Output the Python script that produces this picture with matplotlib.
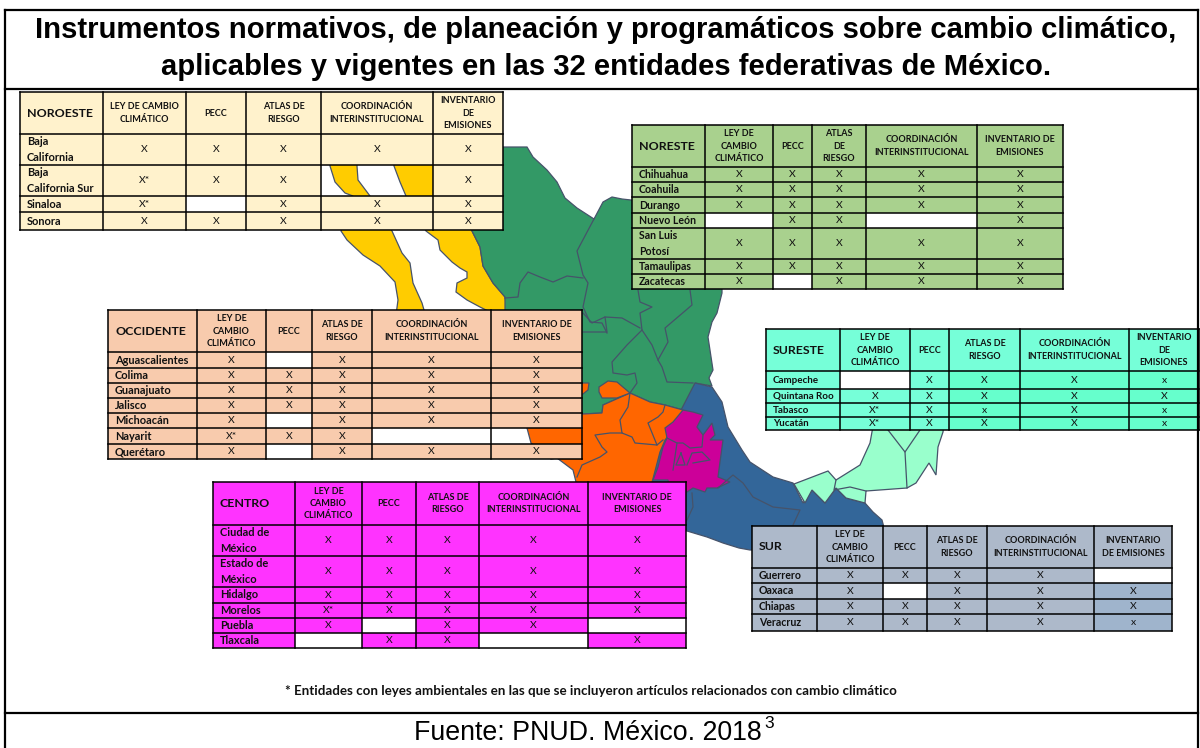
#!/usr/bin/env python3
"""
Instrumentos normativos sobre cambio climatico: mapa de regiones con una tabla por region.
"""

import matplotlib
matplotlib.use('Agg')
import matplotlib.pyplot as plt
from matplotlib.patches import Polygon, Rectangle

TITLE_LINES = ['Instrumentos normativos, de planeación y programáticos sobre cambio climático,',
               'aplicables y vigentes en las 32 entidades federativas de México.']
FOOTNOTE = '* Entidades con leyes ambientales en las que se incluyeron artículos relacionados con cambio climático'
SOURCE = 'Fuente: PNUD. México. 2018'

# Region tables. None = cell left open over the map, '' = white cell
noroeste_name = 'NOROESTE'
noroeste_heads = ['LEY DE CAMBIO\nCLIMÁTICO', 'PECC', 'ATLAS DE\nRIESGO',
                  'COORDINACIÓN\nINTERINSTITUCIONAL', 'INVENTARIO\nDE\nEMISIONES']
noroeste_states = ['Baja\nCalifornia', 'Baja\nCalifornia Sur', 'Sinaloa', 'Sonora']
noroeste_marks = [['X', 'X', 'X', 'X', 'X'],
                  ['X*', 'X', 'X', None, 'X'],
                  ['X*', '', 'X', 'X', 'X'],
                  ['X', 'X', 'X', 'X', 'X']]

noreste_name = 'NORESTE'
noreste_heads = ['LEY DE\nCAMBIO\nCLIMÁTICO', 'PECC', 'ATLAS\nDE\nRIESGO',
                 'COORDINACIÓN\nINTERINSTITUCIONAL', 'INVENTARIO DE\nEMISIONES']
noreste_states = ['Chihuahua', 'Coahuila', 'Durango', 'Nuevo León', 'San Luis\nPotosí',
                  'Tamaulipas', 'Zacatecas']
noreste_marks = [['X', 'X', 'X', 'X', 'X'],
                 ['X', 'X', 'X', 'X', 'X'],
                 ['X', 'X', 'X', 'X', 'X'],
                 ['', 'X', 'X', '', 'X'],
                 ['X', 'X', 'X', 'X', 'X'],
                 ['X', 'X', 'X', 'X', 'X'],
                 ['X', '', 'X', 'X', 'X']]

sureste_name = 'SURESTE'
sureste_heads = ['LEY DE\nCAMBIO\nCLIMÁTICO', 'PECC', 'ATLAS DE\nRIESGO',
                 'COORDINACIÓN\nINTERINSTITUCIONAL', 'INVENTARIO\nDE\nEMISIONES']
sureste_states = ['Campeche', 'Quintana Roo', 'Tabasco', 'Yucatán']
sureste_marks = [['', 'X', 'X', 'X', 'x'],
                 ['X', 'X', 'X', 'X', 'X'],
                 ['X*', 'X', 'x', 'X', 'x'],
                 ['X*', 'X', 'X', 'X', 'x']]

occidente_name = 'OCCIDENTE'
occidente_heads = ['LEY DE\nCAMBIO\nCLIMÁTICO', 'PECC', 'ATLAS DE\nRIESGO',
                   'COORDINACIÓN\nINTERINSTITUCIONAL', 'INVENTARIO DE\nEMISIONES']
occidente_states = ['Aguascalientes', 'Colima', 'Guanajuato', 'Jalisco', 'Michoacán',
                    'Nayarit', 'Querétaro']
occidente_marks = [['X', '', 'X', 'X', 'X'],
                   ['X', 'X', 'X', 'X', 'X'],
                   ['X', 'X', 'X', 'X', 'X'],
                   ['X', 'X', 'X', 'X', 'X'],
                   ['X', '', 'X', 'X', 'X'],
                   ['X*', 'X', 'X', '', None],
                   ['X', '', 'X', 'X', 'X']]

centro_name = 'CENTRO'
centro_heads = occidente_heads
centro_states = ['Ciudad de\nMéxico', 'Estado de\nMéxico', 'Hidalgo', 'Morelos', 'Puebla', 'Tlaxcala']
centro_marks = [['X', 'X', 'X', 'X', 'X'],
                ['X', 'X', 'X', 'X', 'X'],
                ['X', 'X', 'X', 'X', 'X'],
                ['X*', 'X', 'X', 'X', 'X'],
                ['X', '', 'X', 'X', ''],
                ['', 'X', 'X', '', 'X']]

sur_name = 'SUR'
sur_heads = ['LEY DE\nCAMBIO\nCLIMÁTICO', 'PECC', 'ATLAS DE\nRIESGO',
             'COORDINACIÓN\nINTERINSTITUCIONAL', 'INVENTARIO\nDE EMISIONES']
sur_states = ['Guerrero', 'Oaxaca', 'Chiapas', 'Veracruz']
sur_marks = [['X', 'X', 'X', 'X', ''],
             ['X', '', 'X', 'X', 'X'],
             ['X', 'X', 'X', 'X', 'X'],
             ['X', 'X', 'X', 'X', 'x']]

# Map outlines (x, y in image pixels)
baja_shape = [(330, 130), (330, 166), (335, 182), (345, 193), (353, 196), (341, 231), (347, 240),
              (363, 255), (380, 266), (395, 282), (398, 300), (394, 330), (424, 330), (424, 310),
              (422, 303), (413, 283), (410, 263), (402, 253), (392, 231), (370, 196), (358, 180),
              (357, 166), (357, 130)]
sonora_shape = [(390, 130), (394, 166), (400, 182), (406, 196), (426, 231), (438, 240), (440, 250),
                (452, 262), (460, 268), (467, 272), (467, 278), (457, 283), (456, 292), (467, 300),
                (480, 307), (490, 312), (490, 330), (510, 330), (505, 297), (493, 283), (483, 266),
                (480, 247), (472, 231), (470, 130)]
noreste_shape = [(480, 147), (504, 147), (527, 147), (533, 157), (547, 170), (557, 182), (565, 198),
                 (577, 208), (594, 219), (603, 202), (612, 197), (622, 199), (640, 201), (660, 240),
                 (722, 280), (722, 293), (717, 313), (712, 322), (708, 337), (713, 370), (709, 378),
                 (712, 386), (695, 383), (697, 395), (695, 408), (683, 410), (665, 405), (650, 402),
                 (630, 393), (603, 405), (602, 413), (583, 414), (540, 414), (505, 330), (505, 297),
                 (493, 283), (483, 266), (480, 247), (472, 231)]
occidente_shape = [(540, 410), (583, 414), (602, 413), (603, 405), (630, 393), (650, 402), (665, 405),
                   (683, 410), (673, 430), (665, 440), (660, 452), (650, 490), (578, 490), (573, 470),
                   (557, 458), (551, 459), (531, 443), (527, 428)]
aguascalientes_shape = [(599, 387), (608, 381), (617, 382), (630, 393), (617, 398), (602, 398), (599, 392)]
orange_bit_shape = [(578, 383), (589, 383), (588, 390), (583, 394), (578, 395)]
sur_shape = [(695, 383), (712, 387), (722, 402), (728, 427), (742, 450), (750, 462), (773, 477),
             (793, 483), (803, 503), (812, 490), (825, 503), (836, 488), (846, 498), (865, 503),
             (873, 512), (882, 520), (890, 550), (750, 550), (739, 548), (723, 543), (707, 537),
             (687, 531), (620, 520), (620, 482), (630, 477), (645, 480), (648, 472), (660, 450),
             (680, 412)]
centro_shape = [(653, 480), (658, 467), (663, 447), (667, 438), (665, 428), (673, 422), (683, 410),
                (693, 412), (703, 415), (697, 427), (703, 435), (712, 423), (715, 435), (710, 440),
                (723, 440), (720, 462), (718, 477), (730, 482), (717, 488), (707, 488), (705, 492),
                (693, 488), (687, 492), (670, 492), (668, 480)]
sureste_shape = [(794, 484), (828, 471), (836, 480), (860, 465), (870, 443), (875, 415), (945, 415),
                 (943, 432), (938, 447), (936, 475), (929, 463), (916, 483), (907, 488), (866, 491),
                 (865, 503), (846, 498), (836, 488), (825, 503), (812, 490), (805, 503)]

state_borders = [
    [(594, 219), (577, 251), (583, 275), (588, 283), (583, 307), (590, 322), (602, 323), (607, 333)],
    [(505, 298), (518, 297), (520, 283), (528, 272), (540, 277), (553, 282), (567, 276), (583, 278)],
    [(638, 290), (640, 302), (652, 307), (640, 313), (642, 330), (627, 345), (612, 362), (613, 373),
     (627, 375), (635, 373), (637, 383), (630, 393)],
    [(690, 290), (692, 305), (665, 328), (668, 342), (658, 360), (662, 367), (667, 382), (693, 383)],
    [(642, 330), (652, 345), (658, 360)],
    [(583, 313), (592, 323), (605, 317), (607, 332), (583, 332)],
    [(605, 317), (622, 318), (640, 328)],
    [(630, 393), (628, 407), (620, 420), (622, 433), (632, 437), (635, 443), (657, 445), (648, 423),
     (658, 417), (663, 412), (665, 405)],
    [(622, 433), (610, 433), (595, 435), (602, 447), (607, 452), (600, 457), (582, 465), (577, 477)],
    [(657, 445), (663, 440)],
    [(667, 438), (677, 443), (683, 443), (690, 448), (702, 447), (703, 435)],
    [(677, 443), (673, 470)],
    [(681, 453), (676, 465), (685, 465), (681, 453)],
    [(687, 465), (692, 453), (702, 452), (710, 460), (693, 463)],
    [(692, 493), (693, 507), (687, 520)],
    [(718, 488), (733, 475), (743, 483), (753, 497), (773, 507), (800, 510), (793, 525)],
    [(836, 480), (834, 490), (850, 487), (866, 491)],
    [(888, 430), (905, 452), (920, 430)],
    [(905, 452), (907, 488)],
]

# Layout of each table: column and row edges in image pixels
noroeste_cols = [20, 103, 186, 246, 321, 433, 503]
noroeste_rows = [92, 134, 165, 196, 212, 230]
noreste_cols = [632, 705, 773, 812, 866, 977, 1063]
noreste_rows = [125, 167, 182, 197, 213, 228, 259, 274, 289]
sureste_cols = [766, 840, 910, 949, 1020, 1129, 1199]
sureste_rows = [329, 371, 389, 403, 417, 430]
occidente_cols = [108, 197, 266, 312, 372, 491, 582]
occidente_rows = [310, 352, 368, 383, 398, 413, 428, 444, 459]
centro_cols = [213, 295, 362, 416, 479, 588, 686]
centro_rows = [482, 525, 556, 587, 603, 618, 633, 648]
sur_cols = [752, 817, 883, 927, 987, 1094, 1172]
sur_rows = [526, 568, 583, 599, 614, 631]

EDGE = '#46536A'
TABLE_FONT = 'Lato'


def draw_table(ax, name, heads, states, marks, cols, rows, head_color, body_color, last_color=None,
               data_color=None, state_size=7.9):
    """One region table: header row, state names, X marks."""
    for r in range(len(rows) - 1):
        for c in range(len(cols) - 1):
            if r == 0:
                fill = head_color
                value = ''
            elif c == 0:
                fill = body_color
                value = ''
            else:
                value = marks[r - 1][c - 1]
                fill = body_color
                if data_color and c >= 3:
                    fill = data_color
                if last_color and c == len(cols) - 2 and value != '':
                    fill = last_color
                if value == '':
                    fill = 'white'
            if value is None:
                continue
            ax.add_patch(Rectangle((cols[c], rows[r]), cols[c + 1] - cols[c], rows[r + 1] - rows[r],
                                   facecolor=fill, edgecolor='none', zorder=3))
            if value:
                ax.text((cols[c] + cols[c + 1]) / 2, (rows[r] + rows[r + 1]) / 2, value, fontsize=7.5,
                        family=TABLE_FONT, ha='center', va='center', zorder=5, color='#111111')

    for x in cols:
        ax.plot([x, x], [rows[0], rows[-1]], color='black', lw=1.1, zorder=4, solid_capstyle='projecting')
    for y in rows:
        ax.plot([cols[0], cols[-1]], [y, y], color='black', lw=1.1, zorder=4, solid_capstyle='projecting')

    ax.text(cols[0] + 7, (rows[0] + rows[1]) / 2, name, fontsize=8.9, fontweight='bold', family=TABLE_FONT,
            ha='left', va='center', zorder=5, color='#111111')
    for c, head in enumerate(heads):
        ax.text((cols[c + 1] + cols[c + 2]) / 2, (rows[0] + rows[1]) / 2, head, fontsize=6.5, fontweight='bold',
                family=TABLE_FONT, ha='center', va='center', linespacing=1.5, zorder=5, color='#111111')
    for r, state in enumerate(states):
        ax.text(cols[0] + 7, (rows[r + 1] + rows[r + 2]) / 2, state, fontsize=state_size, fontweight='bold',
                family=TABLE_FONT, ha='left', va='center', linespacing=1.55, zorder=5, color='#111111')


def main():
    fig = plt.figure(figsize=(12, 7.48), dpi=100)
    ax = fig.add_axes([0, 0, 1, 1])
    ax.set_xlim(0, 1200)
    ax.set_ylim(748, 0)
    ax.axis('off')

    # Map
    map_shapes = [(baja_shape, '#FFCC00'), (sonora_shape, '#FFCC00'), (noreste_shape, '#339966'),
                  (sur_shape, '#336699'), (occidente_shape, '#FF6600'),
                  (aguascalientes_shape, '#FF6600'), (orange_bit_shape, '#FF6600'),
                  (centro_shape, '#CC0099'), (sureste_shape, '#99FFCC')]
    for shape, color in map_shapes:
        ax.add_patch(Polygon(shape, closed=True, facecolor=color, edgecolor=EDGE, lw=0.9, zorder=1))
    for border in state_borders:
        ax.plot([p[0] for p in border], [p[1] for p in border], color=EDGE, lw=0.9, zorder=2)

    # Tables on top of the map
    draw_table(ax, noroeste_name, noroeste_heads, noroeste_states, noroeste_marks,
               noroeste_cols, noroeste_rows, '#FFF2CC', '#FFF2CC')
    draw_table(ax, noreste_name, noreste_heads, noreste_states, noreste_marks,
               noreste_cols, noreste_rows, '#A9D18E', '#A9D18E', state_size=7.6)
    draw_table(ax, sureste_name, sureste_heads, sureste_states, sureste_marks,
               sureste_cols, sureste_rows, '#76FFD8', '#76FFD8', data_color='#66FFCC', state_size=7.1)
    draw_table(ax, occidente_name, occidente_heads, occidente_states, occidente_marks,
               occidente_cols, occidente_rows, '#F8CBAD', '#F8CBAD')
    draw_table(ax, centro_name, centro_heads, centro_states, centro_marks,
               centro_cols, centro_rows, '#FF33FF', '#FF33FF')
    draw_table(ax, sur_name, sur_heads, sur_states, sur_marks,
               sur_cols, sur_rows, '#ADB9CA', '#ADB9CA', last_color='#9FB4CC', state_size=7.6)

    # Frame
    for x0, y0, x1, y1 in [(5, 10, 1198, 10), (5, 10, 5, 748), (1198, 10, 1198, 748),
                           (5, 89, 1198, 89), (5, 713, 1198, 713)]:
        ax.plot([x0, x1], [y0, y1], color='black', lw=1.6, zorder=6, solid_capstyle='projecting')

    ax.text(606, 30, TITLE_LINES[0], fontsize=21.1, fontweight='bold', family='Liberation Sans',
            ha='center', va='center', color='black', zorder=7)
    ax.text(606, 67, TITLE_LINES[1], fontsize=21.1, fontweight='bold', family='Liberation Sans',
            ha='center', va='center', color='black', zorder=7)
    ax.text(590.5, 691, FOOTNOTE, fontsize=9.65, fontweight='bold', family=TABLE_FONT,
            ha='center', va='center', color='#111111', zorder=7)
    ax.text(414, 733, SOURCE, fontsize=19.3, family='Liberation Sans', ha='left', va='center',
            color='black', zorder=7)
    ax.text(764, 724, '3', fontsize=12.5, family='Liberation Sans', ha='left', va='center',
            color='black', zorder=7)

    fig.savefig('out.png', dpi=100)


if __name__ == "__main__":
    main()
